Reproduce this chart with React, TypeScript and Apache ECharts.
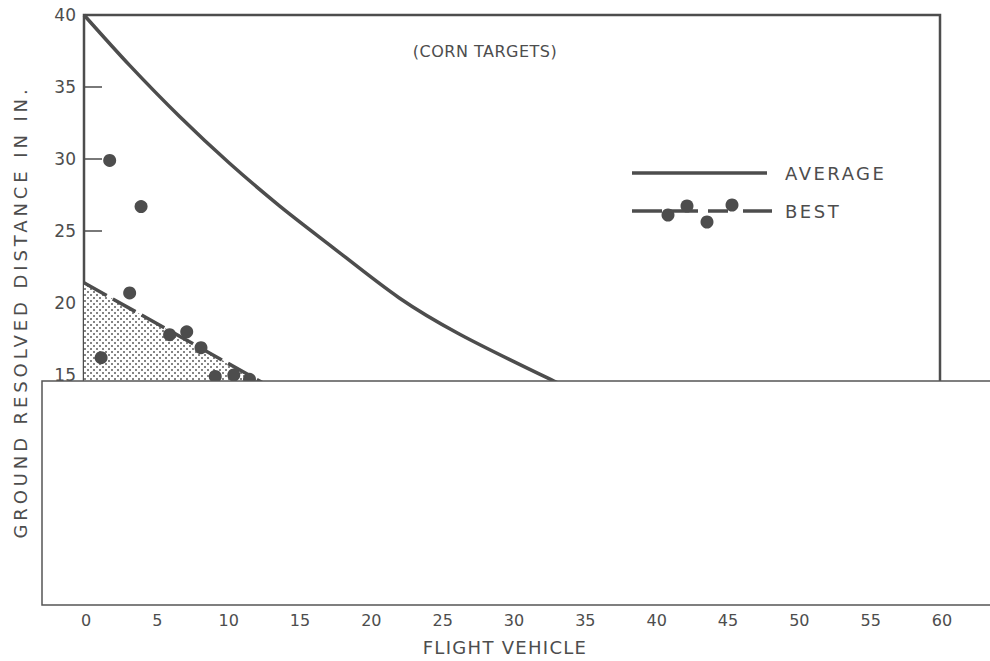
import React, { useEffect, useRef } from "react";
import * as echarts from "echarts";

// ---- data ----
const averageX = [0, 3.2, 6.7, 10.2, 13.7, 17.0, 22.1, 26.3, 32.9, 35.0];
const averageY = [40, 36.5, 32.95, 29.7, 26.75, 24.2, 20.35, 17.85, 14.6, 13.7];

const bestX = [0, 13.0];
const bestY = [21.4, 14.2];

const pointsX = [1.8, 4.0, 3.2, 1.2, 6.0, 7.2, 8.2, 9.2, 10.5, 11.6];
const pointsY = [29.9, 26.7, 20.7, 16.2, 17.8, 18.0, 16.9, 14.9, 15.0, 14.7];

const legendNames = ["AVERAGE", "BEST"];
const subtitle = "(CORN TARGETS)";
const xTitle = "FLIGHT VEHICLE";
const yTitle = "GROUND RESOLVED DISTANCE IN IN.";

const INK = "#4d4d4d";
const FONT = "DejaVu Sans";

const spacing: Record<string, number> = {
  [yTitle]: 3.9,
  [xTitle]: 1.3,
  AVERAGE: 2.5,
  BEST: 2.5,
  [subtitle]: 0.5,
};

function makeDots() {
  const c = document.createElement("canvas");
  c.width = 6;
  c.height = 6;
  const g = c.getContext("2d")!;
  g.fillStyle = "#ffffff";
  g.fillRect(0, 0, 6, 6);
  g.fillStyle = "#858585";
  g.fillRect(0, 0, 2, 2);
  g.fillRect(3, 3, 2, 2);
  return c;
}

export default function App() {
  const ref = useRef<HTMLDivElement>(null);

  useEffect(() => {
    const el = ref.current!;
    const chart = echarts.init(el, null, { renderer: "svg" });

    const avg = averageX.map((x, i) => [x, averageY[i]]);
    const best = bestX.map((x, i) => [x, bestY[i]]);
    const pts = pointsX.map((x, i) => [x, pointsY[i]]);

    const legY1 = 173;
    const legY2 = 211;

    const option: any = {
      animation: false,
      backgroundColor: "#ffffff",
      grid: {
        left: 84,
        top: 15,
        width: 856,
        height: 576,
        show: true,
        borderColor: INK,
        borderWidth: 2.5,
        backgroundColor: "transparent",
      },
      xAxis: {
        type: "value",
        min: 0,
        max: 60,
        interval: 5,
        axisLine: { show: false },
        axisTick: { show: false },
        splitLine: { show: false },
        axisLabel: { color: INK, fontFamily: FONT, fontSize: 16, margin: 21, padding: [0, 0, 0, 4] },
      },
      yAxis: {
        type: "value",
        min: 0,
        max: 40,
        interval: 5,
        axisLine: { show: false },
        axisTick: { show: true, inside: true, length: 18, lineStyle: { color: INK, width: 1.5 } },
        splitLine: { show: false },
        axisLabel: { color: INK, fontFamily: FONT, fontSize: 17, margin: 8 },
      },
      series: [
        {
          name: legendNames[1],
          type: "line",
          data: best,
          symbol: "none",
          lineStyle: { color: INK, width: 3.5, type: [26, 7] },
          areaStyle: { color: { image: makeDots(), repeat: "repeat" }, opacity: 1 },
          z: 2,
        },
        {
          name: legendNames[0],
          type: "line",
          data: avg,
          smooth: 0.3,
          symbol: "none",
          lineStyle: { color: INK, width: 3.5 },
          z: 3,
        },
        {
          name: "points",
          type: "scatter",
          data: pts,
          symbolSize: 13,
          itemStyle: { color: INK, opacity: 1 },
          z: 4,
        },
      ],
      graphic: [
        {
          type: "text",
          x: 485,
          y: 51,
          style: { text: subtitle, fill: INK, font: `16px "${FONT}"`, textAlign: "center", textVerticalAlign: "middle" },
        },
        // legend: AVERAGE
        { type: "line", shape: { x1: 632, y1: legY1, x2: 767, y2: legY1 }, style: { stroke: INK, lineWidth: 3.5 } },
        {
          type: "text",
          x: 785,
          y: legY1,
          style: { text: legendNames[0], fill: INK, font: `18px "${FONT}"`, textAlign: "left", textVerticalAlign: "middle" },
        },
        // legend: BEST
        { type: "line", shape: { x1: 632, y1: legY2, x2: 662, y2: legY2 }, style: { stroke: INK, lineWidth: 3.5 } },
        { type: "line", shape: { x1: 670, y1: legY2, x2: 698, y2: legY2 }, style: { stroke: INK, lineWidth: 3.5 } },
        { type: "line", shape: { x1: 708, y1: legY2, x2: 728, y2: legY2 }, style: { stroke: INK, lineWidth: 3.5 } },
        { type: "line", shape: { x1: 743, y1: legY2, x2: 772, y2: legY2 }, style: { stroke: INK, lineWidth: 3.5 } },
        { type: "circle", shape: { cx: 668, cy: 215, r: 6.5 }, style: { fill: INK } },
        { type: "circle", shape: { cx: 687, cy: 206, r: 6.5 }, style: { fill: INK } },
        { type: "circle", shape: { cx: 707, cy: 222, r: 6.5 }, style: { fill: INK } },
        { type: "circle", shape: { cx: 732, cy: 205, r: 6.5 }, style: { fill: INK } },
        {
          type: "text",
          x: 785,
          y: legY2,
          style: { text: legendNames[1], fill: INK, font: `18px "${FONT}"`, textAlign: "left", textVerticalAlign: "middle" },
        },
        // axis titles
        {
          type: "text",
          x: 20,
          y: 312,
          rotation: Math.PI / 2,
          style: { text: yTitle, fill: INK, font: `18px "${FONT}"`, textAlign: "center", textVerticalAlign: "middle" },
        },
        {
          type: "text",
          x: 505,
          y: 647,
          style: { text: xTitle, fill: INK, font: `18px "${FONT}"`, textAlign: "center", textVerticalAlign: "middle" },
        },
        // white panel laid over the lower part of the figure
        {
          type: "rect",
          z: 100,
          shape: { x: 42, y: 381, width: 970, height: 224 },
          style: { fill: "#ffffff", stroke: "#555555", lineWidth: 1.5 },
        },
      ],
    };

    chart.setOption(option);

    const applySpacing = () => {
      el.querySelectorAll("text").forEach((t) => {
        const s = spacing[(t.textContent || "").trim()];
        if (s !== undefined) t.setAttribute("letter-spacing", String(s));
      });
    };
    chart.on("finished", applySpacing);
    applySpacing();
    const timer = setTimeout(applySpacing, 50);

    return () => {
      clearTimeout(timer);
      chart.dispose();
    };
  }, []);

  return (
    <div
      ref={ref}
      style={{ position: "absolute", left: 0, top: 0, width: 990, height: 661, background: "#fff" }}
    />
  );
}
